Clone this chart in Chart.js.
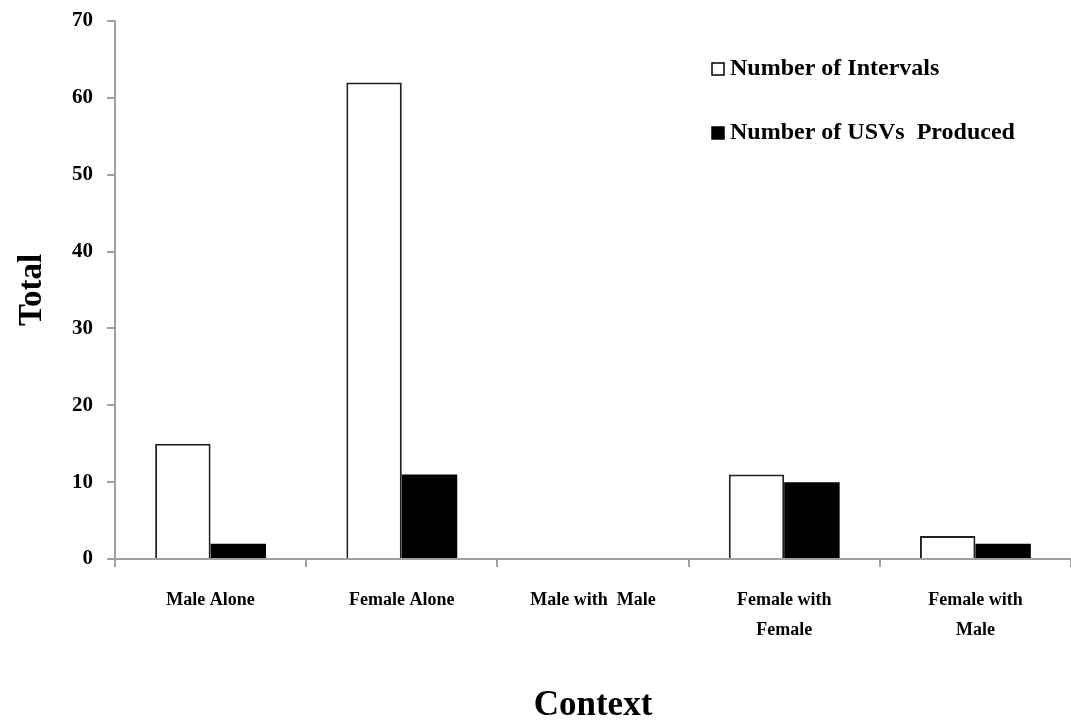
<!DOCTYPE html>
<html>
<head>
<meta charset="utf-8">
<script src="https://cdn.jsdelivr.net/npm/chart.js@4"></script>
<style>
  html, body { margin: 0; padding: 0; background: #fff; overflow: hidden; }
  #wrap { width: 1071px; height: 721px; }
</style>
</head>
<body>
<div id="wrap"><canvas id="myChart" width="1071" height="721"></canvas></div>
<script>
// data
const categories = ['Male Alone', 'Female Alone', 'Male with  Male', ['Female with', 'Female'], ['Female with', 'Male']];
const intervals = [15, 62, 0, 11, 3];
const usvs = [2, 11, 0, 10, 2];
const seriesNames = ['Number of Intervals', 'Number of USVs  Produced'];
const yTicks = [0, 10, 20, 30, 40, 50, 60, 70];

const serif = '"Liberation Serif", "Times New Roman", serif';

// legend drawn inside the plot, top right
const innerLegend = {
  id: 'innerLegend',
  afterDraw(chart) {
    const c = chart.ctx;
    const rows = [69, 133];
    c.save();
    chart.data.datasets.forEach((ds, i) => {
      const y = rows[i];
      c.fillStyle = ds.backgroundColor;
      c.fillRect(712, y - 6, 12, 12);
      c.strokeStyle = '#000';
      c.lineWidth = 1.5;
      c.strokeRect(712, y - 6, 12, 12);
      c.fillStyle = '#000';
      c.font = 'bold 24px ' + serif;
      c.textBaseline = 'middle';
      c.fillText(ds.label, 730, y);
    });
    c.restore();
  }
};

const ctx = document.getElementById('myChart');

new Chart(ctx, {
  type: 'bar',
  data: {
    labels: categories,
    datasets: [{
      label: seriesNames[0],
      data: intervals,
      backgroundColor: '#ffffff',
      borderColor: '#222',
      borderWidth: 2
    }, {
      label: seriesNames[1],
      data: usvs,
      backgroundColor: '#000000',
      borderColor: '#000',
      borderWidth: 0
    }]
  },
  options: {
    responsive: false,
    animation: false,
    layout: { padding: { top: 21, right: 0, left: 0, bottom: 0 } },
    categoryPercentage: 0.58,
    barPercentage: 1,
    plugins: {
      legend: { display: false },
      tooltip: { enabled: false }
    },
    scales: {
      x: {
        afterFit: s => { s.height = 162; s.paddingLeft = 0; s.paddingRight = 0; },
        grid: { drawOnChartArea: false, offset: true, tickLength: 8, color: '#a0a0a0', lineWidth: 2 },
        border: { color: '#a0a0a0', width: 2 },
        ticks: { color: '#000', padding: 18, maxRotation: 0, autoSkip: false,
                 font: { family: serif, size: 18, weight: 'bold', lineHeight: 1.67 } },
        title: { display: true, text: 'Context', color: '#000', padding: { top: 0, bottom: -6 },
                 font: { family: serif, size: 35, weight: 'bold' } }
      },
      y: {
        min: 0,
        max: 70,
        afterFit: s => { s.width = 115; s.paddingTop = 0; s.paddingBottom = 0; },
        afterBuildTicks: s => { s.ticks = yTicks.map(v => ({ value: v })); },
        grid: { drawOnChartArea: false, tickLength: 8, color: '#a0a0a0', lineWidth: 2 },
        border: { color: '#a0a0a0', width: 2 },
        ticks: { color: '#000', padding: 14,
                 font: { family: serif, size: 21, weight: 'bold' } },
        title: { display: true, text: 'Total', color: '#000', padding: 13,
                 font: { family: serif, size: 33, weight: 'bold' } }
      }
    }
  },
  plugins: [innerLegend]
});
</script>
</body>
</html>
